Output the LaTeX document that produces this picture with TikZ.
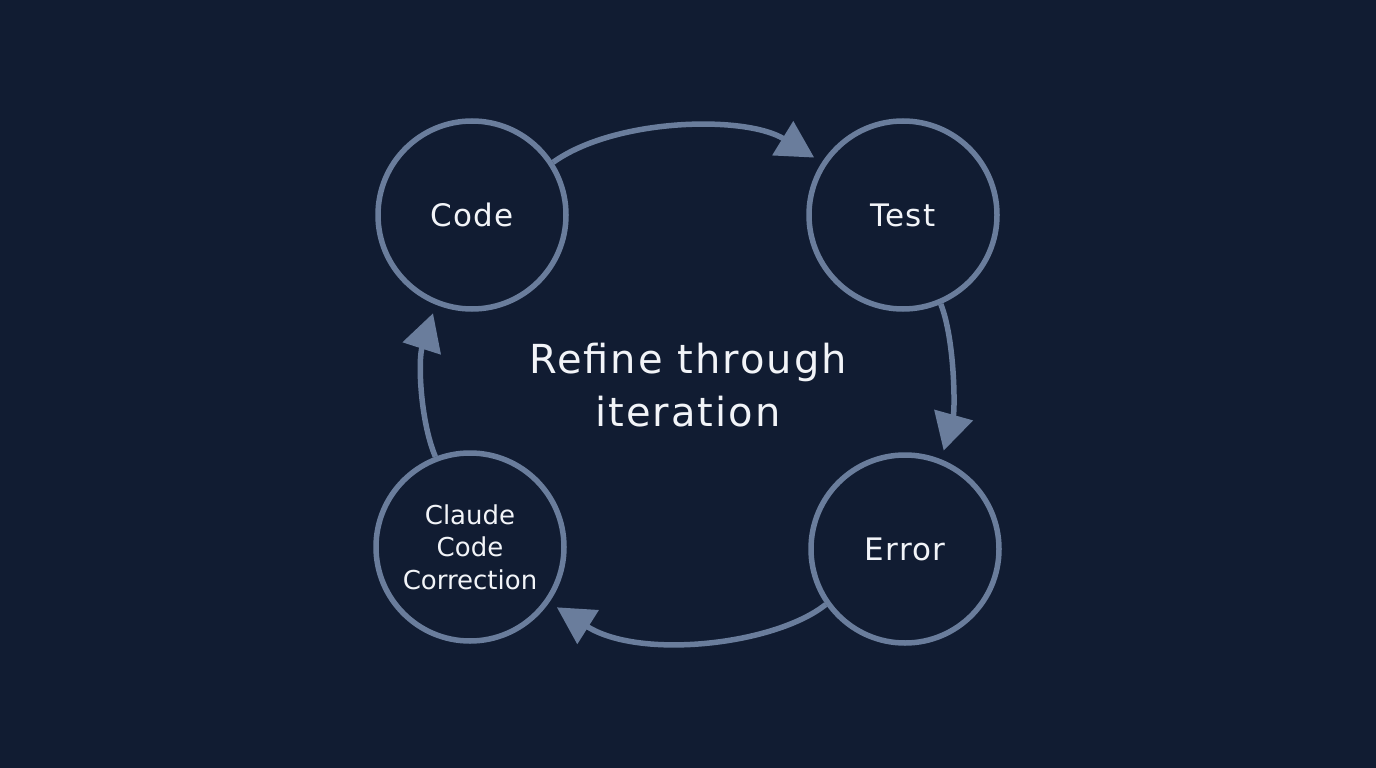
\documentclass[tikz,border=0pt]{standalone}
\usepackage{fontspec}
\setmainfont{DejaVu Sans}
\usetikzlibrary{arrows.meta}
\definecolor{bg}{HTML}{111C32}
\definecolor{ring}{HTML}{6A7D9C}
\definecolor{txt}{HTML}{F2F4F8}
\tikzset{
  stage/.style={circle, draw=ring, line width=5.5pt, minimum size=188pt, inner sep=0pt, text=txt, font=\fontsize{31}{36}\selectfont\addfontfeatures{LetterSpace=4}, align=center},
  flow/.style={draw=ring, line width=5.5pt, -{Triangle[length=37pt,width=39pt]}, shorten >=9pt},
}
\begin{document}
\begin{tikzpicture}[x=1pt,y=-1pt]
\fill[bg] (0,0) rectangle (1376,768);
\useasboundingbox (0,0) rectangle (1376,768);
\node[stage] (code) at (472,215) {Code};
\node[stage] (test) at (903,215) {Test};
\node[stage] (error) at (905,549) {Error};
\node[stage, font=\fontsize{26}{32.5}\selectfont] (ccc) at (470,547) {Claude\\Code\\Correction};
\node[text=txt, font=\fontsize{40}{53}\selectfont\addfontfeatures{LetterSpace=5}, align=center] (title) at (688,385) {Refine through\\iteration};
\draw[flow] (code.33) .. controls (615,118) and (745,115) .. (test.147);
\draw[flow] (test.-67) .. controls (955,340) and (955,410) .. (error.68);
\draw[flow] (error.215) .. controls (775,645) and (640,660) .. (ccc.-35);
\draw[flow] (ccc.111) .. controls (420,420) and (418,360) .. (code.248);
\end{tikzpicture}
\end{document}
